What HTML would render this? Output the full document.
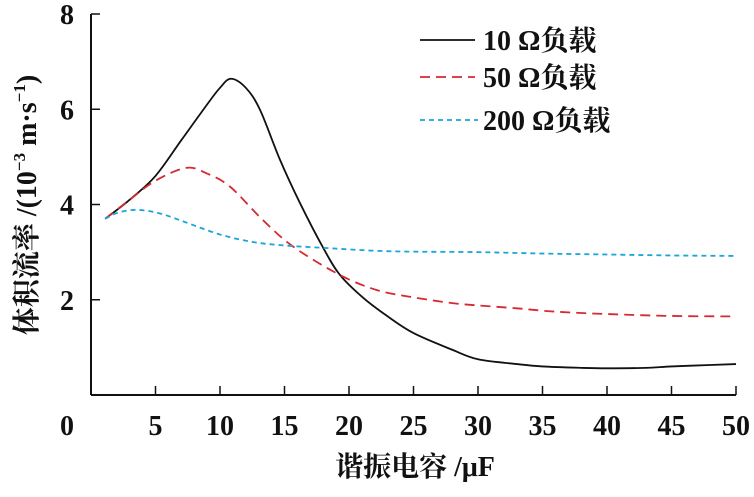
<!DOCTYPE html>
<html><head><meta charset="utf-8"><style>
body{margin:0;background:#fff}
svg text{font-family:"Liberation Serif","Noto Serif CJK SC",serif;fill:#111;font-weight:bold}
</style></head><body>
<svg width="754" height="492" viewBox="0 0 754 492">
<g id="axes"></g><g id="series"></g>
<g font-size="28" >
<line x1="420" y1="40" x2="475" y2="40" stroke="#111" stroke-width="1.8"/>
<text x="483" y="50">10 Ω负载</text>
<line x1="420" y1="77" x2="475" y2="77" stroke="#d42a30" stroke-width="1.8" stroke-dasharray="10,6"/>
<text x="483" y="87">50 Ω负载</text>
<line x1="420" y1="120" x2="478" y2="120" stroke="#1aa6d8" stroke-width="1.8" stroke-dasharray="5,4"/>
<text x="483" y="130">200 Ω负载</text>
</g>
<text x="415" y="476" font-size="28" text-anchor="middle">谐振电容 /μF</text>
<text transform="translate(36,205) rotate(-90)" font-size="28" text-anchor="middle">体积流率 /(10<tspan font-size="17" dy="-11">−3</tspan><tspan dy="11"> m·s</tspan><tspan font-size="17" dy="-11">−1</tspan><tspan dy="11">)</tspan></text>
</svg>
<script>
const xTicks=[0,5,10,15,20,25,30,35,40,45,50];
const yTicks=[2,4,6,8];
const x10=[1.1,3,5,7,9,10,10.85,12,13.1,14.65,16.2,18,19.3,21.1,23,25,28,30,33,35,38,40,43,45,48,50];
const y10=[3.7,4.1,4.6,5.35,6.1,6.45,6.64,6.45,5.99,4.94,4.03,3.09,2.52,2.04,1.65,1.3,0.95,0.75,0.65,0.6,0.57,0.56,0.57,0.6,0.63,0.65];
const x50=[1.1,3,5,7.4,9,10.8,13.3,15.7,19.3,22.2,25,28,30,33,36,40,45,50];
const y50=[3.7,4.1,4.5,4.77,4.65,4.37,3.68,3.11,2.52,2.2,2.05,1.93,1.88,1.82,1.75,1.7,1.66,1.65];
const x200=[1.1,2,3,4,5.5,7.3,10,12.6,15,18,21.9,25,30,35,40,45,50];
const y200=[3.7,3.82,3.88,3.88,3.8,3.63,3.37,3.21,3.14,3.09,3.03,3.01,3.0,2.97,2.95,2.93,2.92];
const NS="http://www.w3.org/2000/svg";
const X=v=>91+v*(736-91)/50, Y=v=>395-v*(395-14)/8;
function mk(t,a,p){const e=document.createElementNS(NS,t);for(const k in a)e.setAttribute(k,a[k]);p.appendChild(e);return e;}
const ax=document.getElementById('axes');
const xl=mk('line',{x1:91,y1:395,x2:736,y2:395,stroke:'#111','stroke-width':2},ax);


const yl=mk('line',{x1:91,y1:395,x2:91,y2:14,stroke:'#111','stroke-width':2},ax);


xTicks.forEach(v=>{
 if(v>0){const t=mk('line',{x1:X(v),y1:395,x2:X(v),y2:386,stroke:'#111','stroke-width':1.5},ax);
 
 }
 const l=mk('text',{x:v===0?67:X(v),y:435,'font-size':28,'text-anchor':'middle'},ax);l.textContent=v;
 
 
});
yTicks.forEach(v=>{
 const t=mk('line',{x1:91,y1:Y(v),x2:100,y2:Y(v),stroke:'#111','stroke-width':1.5},ax);
 
 
 const l=mk('text',{x:67,y:Y(v)+10,'font-size':28,'text-anchor':'middle'},ax);l.textContent=v;
 
 
});
function path(xs,ys){const p=xs.map((x,i)=>[X(x),Y(ys[i])]);let d='M'+p[0].join(',');
 for(let i=0;i<p.length-1;i++){const p0=p[i-1]||p[i],p1=p[i],p2=p[i+1],p3=p[i+2]||p2;
 d+=` C${p1[0]+(p2[0]-p0[0])/6},${p1[1]+(p2[1]-p0[1])/6} ${p2[0]-(p3[0]-p1[0])/6},${p2[1]-(p3[1]-p1[1])/6} ${p2[0]},${p2[1]}`;}return d;}
const sg=document.getElementById('series');
const s1=mk('path',{d:path(x10,y10),fill:'none',stroke:'#111','stroke-width':1.8},sg);


const s2=mk('path',{d:path(x50,y50),fill:'none',stroke:'#d42a30','stroke-width':1.8,'stroke-dasharray':'10,6'},sg);


const s3=mk('path',{d:path(x200,y200),fill:'none',stroke:'#1aa6d8','stroke-width':1.8,'stroke-dasharray':'5,4'},sg);


</script>
</body></html>
